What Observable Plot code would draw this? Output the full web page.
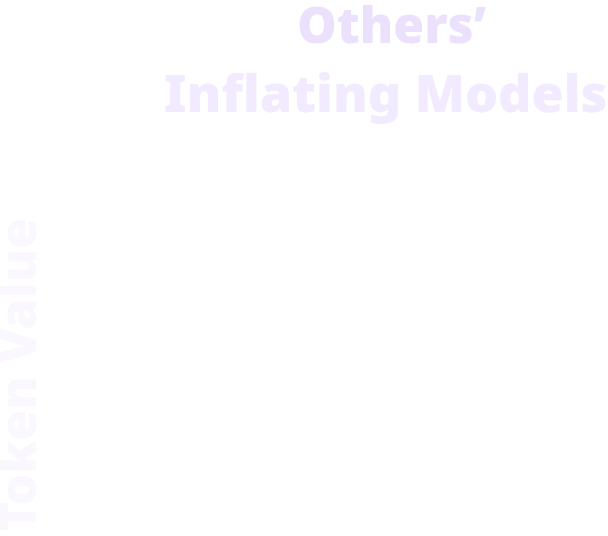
<!DOCTYPE html>
<html>
<head>
<meta charset="utf-8">
<script src="https://cdn.jsdelivr.net/npm/d3@7"></script>
<script src="https://cdn.jsdelivr.net/npm/@observablehq/plot@0.6"></script>
<style>
  body { margin: 0; background: #fff; }
  #chart svg { display: block; }
</style>
</head>
<body>
<div id="chart"></div>
<script>
// chart text
const titleLines = ["Others’", "Inflating Models"];
const titleColors = ["#ece1fd", "#f2eafe"];
const yLabel = ["Token Value"];

const chart = Plot.plot({
  width: 608,
  height: 536,
  margin: 0,
  x: {axis: null},
  y: {axis: null},
  style: {background: "#fff", fontFamily: "'Noto Sans', sans-serif"},
  marks: [
    Plot.text([titleLines[0]], {
      frameAnchor: "top", lineAnchor: "top", dx: 87, dy: 7,
      fontSize: 50, fontWeight: 900, fill: titleColors[0]
    }),
    Plot.text([titleLines[1]], {
      frameAnchor: "top", lineAnchor: "top", dx: 81, dy: 75,
      fontSize: 52, fontWeight: 900, fill: titleColors[1]
    }),
    Plot.text(yLabel, {
      frameAnchor: "bottom-left", textAnchor: "start", lineAnchor: "top",
      rotate: -90, dy: -5, fontSize: 50, fontWeight: 900, fill: "#faf7ff"
    })
  ]
});

document.querySelector("#chart").append(chart);
</script>
</body>
</html>
